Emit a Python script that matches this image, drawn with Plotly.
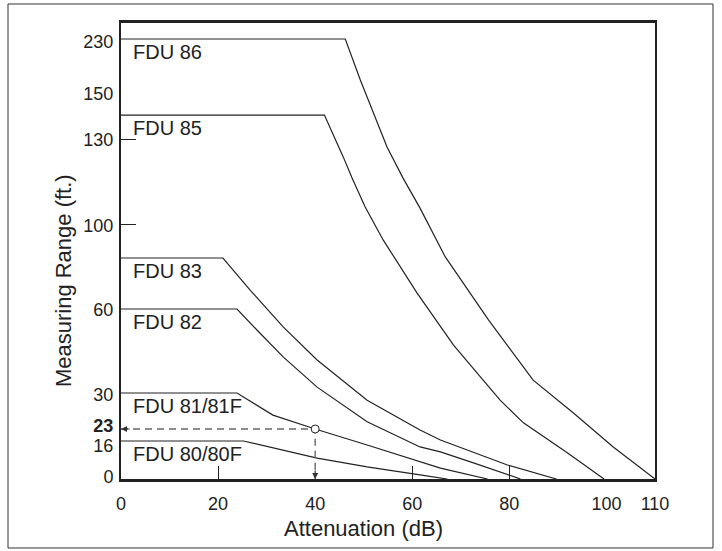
import numpy as np
import plotly.graph_objects as go

# ---- data ----
fdu86_db = [0, 46.2, 49.3, 54.8, 58.1, 61.6, 66.8, 75.7, 84.9, 89.5, 93.2, 101.4, 110]
fdu86_ft = [230, 230, 168, 127.2, 116.2, 105.6, 84.5, 56.1, 34.6, 29.0, 26.1, 13.5, 0]

fdu85_db = [0, 41.9, 45.8, 47.6, 50.3, 54.0, 61.0, 68.5, 74.6, 78.1, 82.9, 92.0, 99.5]
fdu85_ft = [140.2, 140.2, 123.6, 116.2, 106.0, 92.5, 67.5, 47.1, 34.6, 28.6, 24.2, 10.9, 0]

fdu83_db = [0, 21.0, 26.6, 33.4, 40.4, 50.7, 61.6, 65.8, 79.6, 89.7]
fdu83_ft = [84, 84, 68.9, 53.6, 41.8, 28.6, 22.4, 16.6, 5.9, 0]

fdu82_db = [0, 23.9, 28.0, 33.4, 40.4, 50.7, 61.6, 65.8, 72.0, 82.3]
fdu82_ft = [60, 60, 52.5, 42.9, 32.1, 24.4, 13.5, 11.4, 7.2, 0]

fdu81_db = [0, 23.9, 31.3, 40.0, 50.7, 61.6, 65.8, 75.5]
fdu81_ft = [30, 30, 25.7, 23, 14.3, 7.2, 4.6, 0]

fdu80_db = [0, 25.2, 40.4, 50.7, 61.6, 67.2]
fdu80_ft = [16, 16, 8.8, 5.1, 1.7, 0]

model_names = ["FDU 86", "FDU 85", "FDU 83", "FDU 82", "FDU 81/81F", "FDU 80/80F"]
model_db = [fdu86_db, fdu85_db, fdu83_db, fdu82_db, fdu81_db, fdu80_db]
model_ft = [fdu86_ft, fdu85_ft, fdu83_ft, fdu82_ft, fdu81_ft, fdu80_ft]

example_db = 40
example_ft = 23

x_ticks = [0, 20, 40, 60, 80, 100, 110]
x_inner_ticks = [20, 60, 80]
y_tick_ft = [0, 16, 23, 30, 60, 100, 130, 150, 230]
y_tick_text = ["0", "16", "<b>23</b>", "30", "60", "100", "130", "150", "230"]
y_inner_ticks = [100, 130]

# the printed axis is not uniform: position of each labelled value on the axis
y_tick_pos = [0, 38, 50, 86, 170, 255, 340, 387, 440]
# where the printed labels sit (slightly below their lines in the original)
y_label_pos = [2, 33, 53, 84, 169, 253, 339, 385, 437]
y_top = 456


def to_axis(v):
    return np.interp(np.asarray(v, dtype=float), y_tick_ft, y_tick_pos)


INK = "#222222"
FONT = "Liberation Sans, Arial, sans-serif"

fig = go.Figure()

for name, xs, ys in zip(model_names, model_db, model_ft):
    fig.add_trace(go.Scatter(x=xs, y=to_axis(ys), mode="lines", name=name,
                             line=dict(color=INK, width=1.2), hoverinfo="skip"))

# example reading: dashed guide lines
fig.add_trace(go.Scatter(x=[0, example_db, example_db],
                         y=to_axis([example_ft, example_ft, 0]),
                         mode="lines", line=dict(color="#666666", width=1.4, dash="7px,5px"),
                         hoverinfo="skip"))
fig.add_trace(go.Scatter(x=[example_db], y=to_axis([example_ft]), mode="markers",
                         marker=dict(symbol="circle", size=8, color="white",
                                     line=dict(color=INK, width=1)),
                         hoverinfo="skip"))

# invisible trace so the tick-only overlay axes exist
fig.add_trace(go.Scatter(x=[0], y=[0], xaxis="x2", yaxis="y2", mode="markers",
                         marker=dict(opacity=0), hoverinfo="skip"))

annotations = []
for name, ys in zip(model_names, model_ft):
    annotations.append(dict(x=2, y=float(to_axis(ys[0])), xref="x", yref="y",
                            text=name, showarrow=False, xanchor="left", yanchor="middle",
                            yshift=-13, font=dict(size=20, color=INK, family=FONT)))

# arrow heads
annotations.append(dict(x=0, y=float(to_axis(example_ft)), xref="x", yref="y", text="",
                        showarrow=True, ax=10, ay=0, arrowhead=2, arrowsize=1,
                        arrowwidth=1.2, arrowcolor="#333333"))
annotations.append(dict(x=example_db, y=0, xref="x", yref="y", text="",
                        showarrow=True, ax=0, ay=-10, arrowhead=2, arrowsize=1,
                        arrowwidth=1.2, arrowcolor="#333333"))

# axis titles
annotations.append(dict(x=50, y=-0.1075, xref="x", yref="paper", text="Attenuation (dB)",
                        showarrow=False, xanchor="center", yanchor="middle",
                        font=dict(size=22, color=INK, family=FONT)))
annotations.append(dict(x=-0.1086, y=0.434, xref="paper", yref="paper",
                        text="Measuring Range (ft.)", textangle=-90,
                        showarrow=False, xanchor="center", yanchor="middle",
                        font=dict(size=22, color=INK, family=FONT)))

fig.update_layout(
    width=722, height=551,
    margin=dict(l=121, r=67, t=23, b=72),
    paper_bgcolor="white", plot_bgcolor="white",
    showlegend=False,
    font=dict(family=FONT, color=INK, size=18),
    xaxis=dict(range=[0, 110], tickmode="array", tickvals=x_ticks,
               ticks="", showline=True, linewidth=3, linecolor=INK, mirror=True,
               showgrid=False, zeroline=False, tickfont=dict(size=18, color=INK),
               ticklabelstandoff=6),
    yaxis=dict(range=[0, y_top], tickmode="array", tickvals=y_label_pos,
               ticktext=y_tick_text, ticks="", showline=True, linewidth=2,
               linecolor=INK, mirror=True, showgrid=False, zeroline=False,
               tickfont=dict(size=18, color=INK), ticklabelstandoff=2),
    xaxis2=dict(overlaying="x", anchor="y", side="bottom", range=[0, 110],
                tickmode="array", tickvals=x_inner_ticks, ticks="inside", ticklen=13,
                tickwidth=1, tickcolor=INK, showticklabels=False, showline=False,
                showgrid=False, zeroline=False),
    yaxis2=dict(overlaying="y", anchor="x", side="left", range=[0, y_top],
                tickmode="array", tickvals=list(to_axis(y_inner_ticks)), ticks="inside",
                ticklen=15, tickwidth=1, tickcolor=INK, showticklabels=False,
                showline=False, showgrid=False, zeroline=False),
    annotations=annotations,
    shapes=[dict(type="rect", xref="paper", yref="paper",
                 x0=-0.2116, x1=1.1086, y0=-0.1513, y1=1.0417,
                 line=dict(color="#333333", width=1), layer="below")],
)

fig.write_html("out.html", config={"displayModeBar": False},
               post_script="document.body.style.margin='0';document.body.style.overflow='hidden';")
